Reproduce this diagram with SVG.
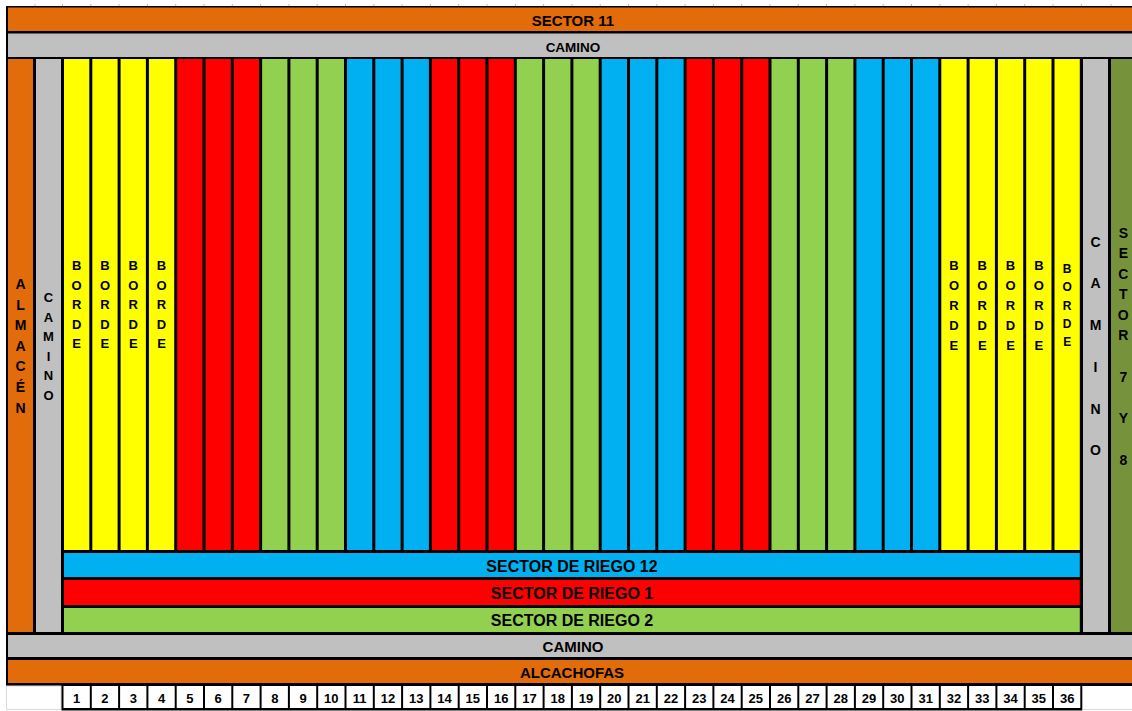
<svg xmlns="http://www.w3.org/2000/svg" width="1132" height="711" viewBox="0 0 1132 711">
<style>
.t{font-family:"Liberation Sans",Arial,sans-serif;font-weight:bold;fill:#000;text-anchor:middle}
.or{fill:#E26B0A}.gr{fill:#C0C0C0}.ye{fill:#FFFF00}.re{fill:#FF0000}.gn{fill:#92D050}.bl{fill:#00B0F0}.ol{fill:#76933C}.wh{fill:#FFFFFF}
.tk{fill:#BBBBBB}
</style>
<rect x="0" y="0" width="1132" height="711" fill="#FFFFFF"/>
<g id="ticks">
<rect class="tk" x="34.5" y="4" width="1" height="2"/>
<rect class="tk" x="62" y="4" width="1" height="2"/><rect class="tk" x="90.3" y="4" width="1" height="2"/><rect class="tk" x="118.6" y="4" width="1" height="2"/><rect class="tk" x="146.9" y="4" width="1" height="2"/><rect class="tk" x="175.2" y="4" width="1" height="2"/><rect class="tk" x="203.5" y="4" width="1" height="2"/><rect class="tk" x="231.8" y="4" width="1" height="2"/><rect class="tk" x="260.1" y="4" width="1" height="2"/><rect class="tk" x="288.4" y="4" width="1" height="2"/><rect class="tk" x="316.7" y="4" width="1" height="2"/><rect class="tk" x="345" y="4" width="1" height="2"/><rect class="tk" x="373.3" y="4" width="1" height="2"/><rect class="tk" x="401.6" y="4" width="1" height="2"/><rect class="tk" x="429.9" y="4" width="1" height="2"/><rect class="tk" x="458.2" y="4" width="1" height="2"/><rect class="tk" x="486.5" y="4" width="1" height="2"/><rect class="tk" x="514.8" y="4" width="1" height="2"/><rect class="tk" x="543.1" y="4" width="1" height="2"/><rect class="tk" x="571.4" y="4" width="1" height="2"/><rect class="tk" x="599.7" y="4" width="1" height="2"/><rect class="tk" x="628" y="4" width="1" height="2"/><rect class="tk" x="656.3" y="4" width="1" height="2"/><rect class="tk" x="684.6" y="4" width="1" height="2"/><rect class="tk" x="712.9" y="4" width="1" height="2"/><rect class="tk" x="741.2" y="4" width="1" height="2"/><rect class="tk" x="769.5" y="4" width="1" height="2"/><rect class="tk" x="797.8" y="4" width="1" height="2"/><rect class="tk" x="826.1" y="4" width="1" height="2"/><rect class="tk" x="854.4" y="4" width="1" height="2"/><rect class="tk" x="882.7" y="4" width="1" height="2"/><rect class="tk" x="911" y="4" width="1" height="2"/><rect class="tk" x="939.3" y="4" width="1" height="2"/><rect class="tk" x="967.6" y="4" width="1" height="2"/><rect class="tk" x="995.9" y="4" width="1" height="2"/><rect class="tk" x="1024.2" y="4" width="1" height="2"/><rect class="tk" x="1052.5" y="4" width="1" height="2"/><rect class="tk" x="1080.8" y="4" width="1" height="2"/><rect class="tk" x="1110.5" y="4" width="1" height="2"/>
</g>
<rect id="frame" x="6" y="6" width="1126" height="680" fill="#000000"/>

<g id="sector11"><rect class="or" x="8" y="7.5" width="1124" height="23.5"/><text class="t" x="573" y="26" font-size="15">SECTOR 11</text></g>
<g id="camino-top"><rect class="gr" x="8" y="33.5" width="1124" height="23.5"/><text class="t" x="573" y="52" font-size="13.5">CAMINO</text></g>

<g id="almacen"><rect class="or" x="8" y="59" width="25" height="573"/>
<text class="t" font-size="14"><tspan x="20.5" y="289">A</tspan><tspan x="20.5" y="309.6">L</tspan><tspan x="20.5" y="330.2">M</tspan><tspan x="20.5" y="350.8">A</tspan><tspan x="20.5" y="371.4">C</tspan><tspan x="20.5" y="392">É</tspan><tspan x="20.5" y="412.6">N</tspan></text></g>
<g id="camino-left"><rect class="gr" x="36" y="59" width="25" height="573"/>
<text class="t" font-size="13"><tspan x="48.5" y="302">C</tspan><tspan x="48.5" y="321.5">A</tspan><tspan x="48.5" y="341">M</tspan><tspan x="48.5" y="360.5">I</tspan><tspan x="48.5" y="380">N</tspan><tspan x="48.5" y="399.5">O</tspan></text></g>

<g id="col1"><rect class="ye" x="64" y="59" width="25.3" height="491"/><text class="t" font-size="13"><tspan x="76.65" y="270">B</tspan><tspan x="76.65" y="289.5">O</tspan><tspan x="76.65" y="309">R</tspan><tspan x="76.65" y="328.5">D</tspan><tspan x="76.65" y="348">E</tspan></text></g>
<g id="col2"><rect class="ye" x="92.3" y="59" width="25.3" height="491"/><text class="t" font-size="13"><tspan x="104.95" y="270">B</tspan><tspan x="104.95" y="289.5">O</tspan><tspan x="104.95" y="309">R</tspan><tspan x="104.95" y="328.5">D</tspan><tspan x="104.95" y="348">E</tspan></text></g>
<g id="col3"><rect class="ye" x="120.6" y="59" width="25.3" height="491"/><text class="t" font-size="13"><tspan x="133.25" y="270">B</tspan><tspan x="133.25" y="289.5">O</tspan><tspan x="133.25" y="309">R</tspan><tspan x="133.25" y="328.5">D</tspan><tspan x="133.25" y="348">E</tspan></text></g>
<g id="col4"><rect class="ye" x="148.9" y="59" width="25.3" height="491"/><text class="t" font-size="13"><tspan x="161.55" y="270">B</tspan><tspan x="161.55" y="289.5">O</tspan><tspan x="161.55" y="309">R</tspan><tspan x="161.55" y="328.5">D</tspan><tspan x="161.55" y="348">E</tspan></text></g>
<g id="col5"><rect class="re" x="177.2" y="59" width="25.3" height="491"/></g>
<g id="col6"><rect class="re" x="205.5" y="59" width="25.3" height="491"/></g>
<g id="col7"><rect class="re" x="233.8" y="59" width="25.3" height="491"/></g>
<g id="col8"><rect class="gn" x="262.1" y="59" width="25.3" height="491"/></g>
<g id="col9"><rect class="gn" x="290.4" y="59" width="25.3" height="491"/></g>
<g id="col10"><rect class="gn" x="318.7" y="59" width="25.3" height="491"/></g>
<g id="col11"><rect class="bl" x="347" y="59" width="25.3" height="491"/></g>
<g id="col12"><rect class="bl" x="375.3" y="59" width="25.3" height="491"/></g>
<g id="col13"><rect class="bl" x="403.6" y="59" width="25.3" height="491"/></g>
<g id="col14"><rect class="re" x="431.9" y="59" width="25.3" height="491"/></g>
<g id="col15"><rect class="re" x="460.2" y="59" width="25.3" height="491"/></g>
<g id="col16"><rect class="re" x="488.5" y="59" width="25.3" height="491"/></g>
<g id="col17"><rect class="gn" x="516.8" y="59" width="25.3" height="491"/></g>
<g id="col18"><rect class="gn" x="545.1" y="59" width="25.3" height="491"/></g>
<g id="col19"><rect class="gn" x="573.4" y="59" width="25.3" height="491"/></g>
<g id="col20"><rect class="bl" x="601.7" y="59" width="25.3" height="491"/></g>
<g id="col21"><rect class="bl" x="630" y="59" width="25.3" height="491"/></g>
<g id="col22"><rect class="bl" x="658.3" y="59" width="25.3" height="491"/></g>
<g id="col23"><rect class="re" x="686.6" y="59" width="25.3" height="491"/></g>
<g id="col24"><rect class="re" x="714.9" y="59" width="25.3" height="491"/></g>
<g id="col25"><rect class="re" x="743.2" y="59" width="25.3" height="491"/></g>
<g id="col26"><rect class="gn" x="771.5" y="59" width="25.3" height="491"/></g>
<g id="col27"><rect class="gn" x="799.8" y="59" width="25.3" height="491"/></g>
<g id="col28"><rect class="gn" x="828.1" y="59" width="25.3" height="491"/></g>
<g id="col29"><rect class="bl" x="856.4" y="59" width="25.3" height="491"/></g>
<g id="col30"><rect class="bl" x="884.7" y="59" width="25.3" height="491"/></g>
<g id="col31"><rect class="bl" x="913" y="59" width="25.3" height="491"/></g>
<g id="col32"><rect class="ye" x="941.3" y="59" width="25.3" height="491"/><text class="t" font-size="13"><tspan x="953.95" y="270">B</tspan><tspan x="953.95" y="290">O</tspan><tspan x="953.95" y="310">R</tspan><tspan x="953.95" y="330">D</tspan><tspan x="953.95" y="350">E</tspan></text></g>
<g id="col33"><rect class="ye" x="969.6" y="59" width="25.3" height="491"/><text class="t" font-size="13"><tspan x="982.25" y="270">B</tspan><tspan x="982.25" y="290">O</tspan><tspan x="982.25" y="310">R</tspan><tspan x="982.25" y="330">D</tspan><tspan x="982.25" y="350">E</tspan></text></g>
<g id="col34"><rect class="ye" x="997.9" y="59" width="25.3" height="491"/><text class="t" font-size="13"><tspan x="1010.55" y="270">B</tspan><tspan x="1010.55" y="290">O</tspan><tspan x="1010.55" y="310">R</tspan><tspan x="1010.55" y="330">D</tspan><tspan x="1010.55" y="350">E</tspan></text></g>
<g id="col35"><rect class="ye" x="1026.2" y="59" width="25.3" height="491"/><text class="t" font-size="13"><tspan x="1038.85" y="270">B</tspan><tspan x="1038.85" y="290">O</tspan><tspan x="1038.85" y="310">R</tspan><tspan x="1038.85" y="330">D</tspan><tspan x="1038.85" y="350">E</tspan></text></g>
<g id="col36"><rect class="ye" x="1054.5" y="59" width="25.3" height="491"/><text class="t" font-size="12"><tspan x="1067.15" y="273">B</tspan><tspan x="1067.15" y="291.3">O</tspan><tspan x="1067.15" y="309.6">R</tspan><tspan x="1067.15" y="328">D</tspan><tspan x="1067.15" y="346.3">E</tspan></text></g>

<g id="camino-right"><rect class="gr" x="1083" y="59" width="25" height="573"/>
<text class="t" font-size="14"><tspan x="1095.5" y="246.7">C</tspan><tspan x="1095.5" y="288.4">A</tspan><tspan x="1095.5" y="330.1">M</tspan><tspan x="1095.5" y="371.8">I</tspan><tspan x="1095.5" y="413.5">N</tspan><tspan x="1095.5" y="455.2">O</tspan></text></g>
<g id="sector7y8"><rect class="ol" x="1111" y="59" width="21" height="573"/>
<text class="t" font-size="14"><tspan x="1123.3" y="238">S</tspan><tspan x="1123.3" y="258.4">E</tspan><tspan x="1123.3" y="278.8">C</tspan><tspan x="1123.3" y="299.2">T</tspan><tspan x="1123.3" y="319.6">O</tspan><tspan x="1123.3" y="340">R</tspan><tspan x="1123.3" y="381.7">7</tspan><tspan x="1123.3" y="423.4">Y</tspan><tspan x="1123.3" y="465">8</tspan></text></g>

<g id="riego12"><rect class="bl" x="64" y="553" width="1015.8" height="24"/><text class="t" x="572" y="572" font-size="16">SECTOR DE RIEGO 12</text></g>
<g id="riego1"><rect class="re" x="64" y="580" width="1015.8" height="25"/><text class="t" x="572" y="599" font-size="16">SECTOR DE RIEGO 1</text></g>
<g id="riego2"><rect class="gn" x="64" y="608" width="1015.8" height="24"/><text class="t" x="572" y="626" font-size="16">SECTOR DE RIEGO 2</text></g>
<g id="camino-bottom"><rect class="gr" x="8" y="635" width="1124" height="22"/><text class="t" x="573" y="652" font-size="15">CAMINO</text></g>
<g id="alcachofas"><rect class="or" x="8" y="660" width="1124" height="23"/><text class="t" x="572" y="678" font-size="15">ALCACHOFAS</text></g>

<g id="numbers">
<rect x="6.5" y="686" width="54.5" height="23.5" fill="#FFFFFF" stroke="#D9D9D9" stroke-width="1"/>
<rect x="1083" y="686" width="49" height="23.5" fill="#FFFFFF"/>
<line x1="1083" y1="709.5" x2="1132" y2="709.5" stroke="#D9D9D9" stroke-width="1"/>
<rect x="61.5" y="683" width="1020.8" height="27.5" fill="#000000"/>
<g class="wh">
<rect x="63.5" y="686" width="26.3" height="22"/><rect x="91.8" y="686" width="26.3" height="22"/><rect x="120.1" y="686" width="26.3" height="22"/><rect x="148.4" y="686" width="26.3" height="22"/><rect x="176.7" y="686" width="26.3" height="22"/><rect x="205" y="686" width="26.3" height="22"/><rect x="233.3" y="686" width="26.3" height="22"/><rect x="261.6" y="686" width="26.3" height="22"/><rect x="289.9" y="686" width="26.3" height="22"/><rect x="318.2" y="686" width="26.3" height="22"/><rect x="346.5" y="686" width="26.3" height="22"/><rect x="374.8" y="686" width="26.3" height="22"/><rect x="403.1" y="686" width="26.3" height="22"/><rect x="431.4" y="686" width="26.3" height="22"/><rect x="459.7" y="686" width="26.3" height="22"/><rect x="488" y="686" width="26.3" height="22"/><rect x="516.3" y="686" width="26.3" height="22"/><rect x="544.6" y="686" width="26.3" height="22"/><rect x="572.9" y="686" width="26.3" height="22"/><rect x="601.2" y="686" width="26.3" height="22"/><rect x="629.5" y="686" width="26.3" height="22"/><rect x="657.8" y="686" width="26.3" height="22"/><rect x="686.1" y="686" width="26.3" height="22"/><rect x="714.4" y="686" width="26.3" height="22"/><rect x="742.7" y="686" width="26.3" height="22"/><rect x="771" y="686" width="26.3" height="22"/><rect x="799.3" y="686" width="26.3" height="22"/><rect x="827.6" y="686" width="26.3" height="22"/><rect x="855.9" y="686" width="26.3" height="22"/><rect x="884.2" y="686" width="26.3" height="22"/><rect x="912.5" y="686" width="26.3" height="22"/><rect x="940.8" y="686" width="26.3" height="22"/><rect x="969.1" y="686" width="26.3" height="22"/><rect x="997.4" y="686" width="26.3" height="22"/><rect x="1025.7" y="686" width="26.3" height="22"/><rect x="1054" y="686" width="26.3" height="22"/>
</g>
<text class="t" font-size="13" y="703"><tspan x="76.65">1</tspan><tspan x="104.95">2</tspan><tspan x="133.25">3</tspan><tspan x="161.55">4</tspan><tspan x="189.85">5</tspan><tspan x="218.15">6</tspan><tspan x="246.45">7</tspan><tspan x="274.75">8</tspan><tspan x="303.05">9</tspan><tspan x="331.35">10</tspan><tspan x="359.65">11</tspan><tspan x="387.95">12</tspan><tspan x="416.25">13</tspan><tspan x="444.55">14</tspan><tspan x="472.85">15</tspan><tspan x="501.15">16</tspan><tspan x="529.45">17</tspan><tspan x="557.75">18</tspan><tspan x="586.05">19</tspan><tspan x="614.35">20</tspan><tspan x="642.65">21</tspan><tspan x="670.95">22</tspan><tspan x="699.25">23</tspan><tspan x="727.55">24</tspan><tspan x="755.85">25</tspan><tspan x="784.15">26</tspan><tspan x="812.45">27</tspan><tspan x="840.75">28</tspan><tspan x="869.05">29</tspan><tspan x="897.35">30</tspan><tspan x="925.65">31</tspan><tspan x="953.95">32</tspan><tspan x="982.25">33</tspan><tspan x="1010.55">34</tspan><tspan x="1038.85">35</tspan><tspan x="1067.15">36</tspan></text>
</g>
<g id="connectors"/>
</svg>
